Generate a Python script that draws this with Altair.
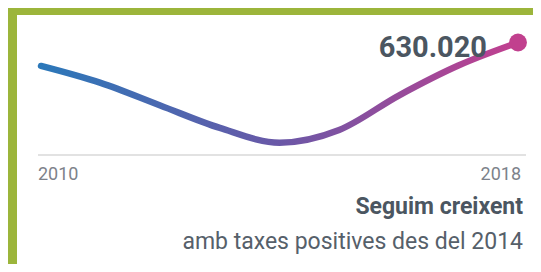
import altair as alt
import pandas as pd

# --- data ---
years = [2010, 2011, 2012, 2013, 2014, 2015, 2016, 2017, 2018]
values = [613600, 601700, 585900, 570200, 559900, 568800, 592900, 613900, 630020]
end_label = ["630.020"]
axis_years = [2010, 2018]
axis_labels = ["2010", "2018"]
title_lines = ["Seguim creixent", "amb taxes positives des del 2014"]

W, H = 525, 256
FONT = "Roboto"
TXT = "#4b5661"

df = pd.DataFrame({"year": years, "value": values})
df_end = pd.DataFrame({"year": [years[-1]], "value": [values[-1]], "label": end_label})
df_ax = pd.DataFrame({"year": axis_years, "label": axis_labels})

x_scale = alt.Scale(domain=[2010, 2018], range=[33, 510])
y_scale = alt.Scale(domain=[550000, 640000], range=[148.8, 20.24])
X = alt.X("year:Q", scale=x_scale, axis=None)
Y = alt.Y("value:Q", scale=y_scale, axis=None)

frame_top = alt.Chart(pd.DataFrame({"a": [0]})).mark_rect(color="#9cb53b").encode(
    x=alt.value(0), x2=alt.value(W), y=alt.value(0), y2=alt.value(7))
frame_left = alt.Chart(pd.DataFrame({"a": [0]})).mark_rect(color="#9cb53b").encode(
    x=alt.value(0), x2=alt.value(9), y=alt.value(0), y2=alt.value(H))

baseline = alt.Chart(pd.DataFrame({"a": [0]})).mark_rule(color="#e2e2e2", strokeWidth=2).encode(
    x=alt.value(30), x2=alt.value(518), y=alt.value(147))

grad = alt.Gradient(
    gradient="linear",
    stops=[alt.GradientStop(color="#2b78b9", offset=0),
           alt.GradientStop(color="#6a58a7", offset=0.5),
           alt.GradientStop(color="#c23f8f", offset=1)],
    x1=0, x2=1, y1=0, y2=0)

line = alt.Chart(df).mark_line(interpolate="monotone", strokeWidth=6.5, strokeCap="round",
                               stroke=grad).encode(x=X, y=Y)

dot = alt.Chart(df_end).mark_circle(size=320, color="#c1408e", opacity=1).encode(x=X, y=Y)

end_text = alt.Chart(df_end).mark_text(align="right", baseline="alphabetic", dx=-31, dy=14.5,
                                       fontSize=29, fontWeight="bold", font=FONT,
                                       color=TXT).encode(x=X, y=Y, text="label:N")

ax_left = alt.Chart(df_ax.iloc[[0]]).mark_text(align="left", baseline="alphabetic", dx=-3,
                                               fontSize=18, font=FONT, color="#7d828a").encode(
    x=X, y=alt.value(172), text="label:N")
ax_right = alt.Chart(df_ax.iloc[[1]]).mark_text(align="right", baseline="alphabetic", dx=3,
                                                fontSize=18, font=FONT, color="#7d828a").encode(
    x=X, y=alt.value(172), text="label:N")

t1 = alt.Chart(pd.DataFrame({"t": [title_lines[0]]})).mark_text(
    align="right", baseline="alphabetic", fontSize=23, fontWeight="bold", font=FONT, color=TXT).encode(
    x=alt.value(515), y=alt.value(206), text="t:N")
t2 = alt.Chart(pd.DataFrame({"t": [title_lines[1]]})).mark_text(
    align="right", baseline="alphabetic", fontSize=23, font=FONT, color="#56606a").encode(
    x=alt.value(515), y=alt.value(241), text="t:N")

chart = alt.layer(frame_top, frame_left, baseline, line, dot, end_text, ax_left, ax_right, t1, t2).properties(
    width=W, height=H, autosize=alt.AutoSizeParams(type="none"), padding=0
).configure_view(strokeWidth=0)

chart.save("out.html", embed_options={"renderer": "svg", "actions": False})
